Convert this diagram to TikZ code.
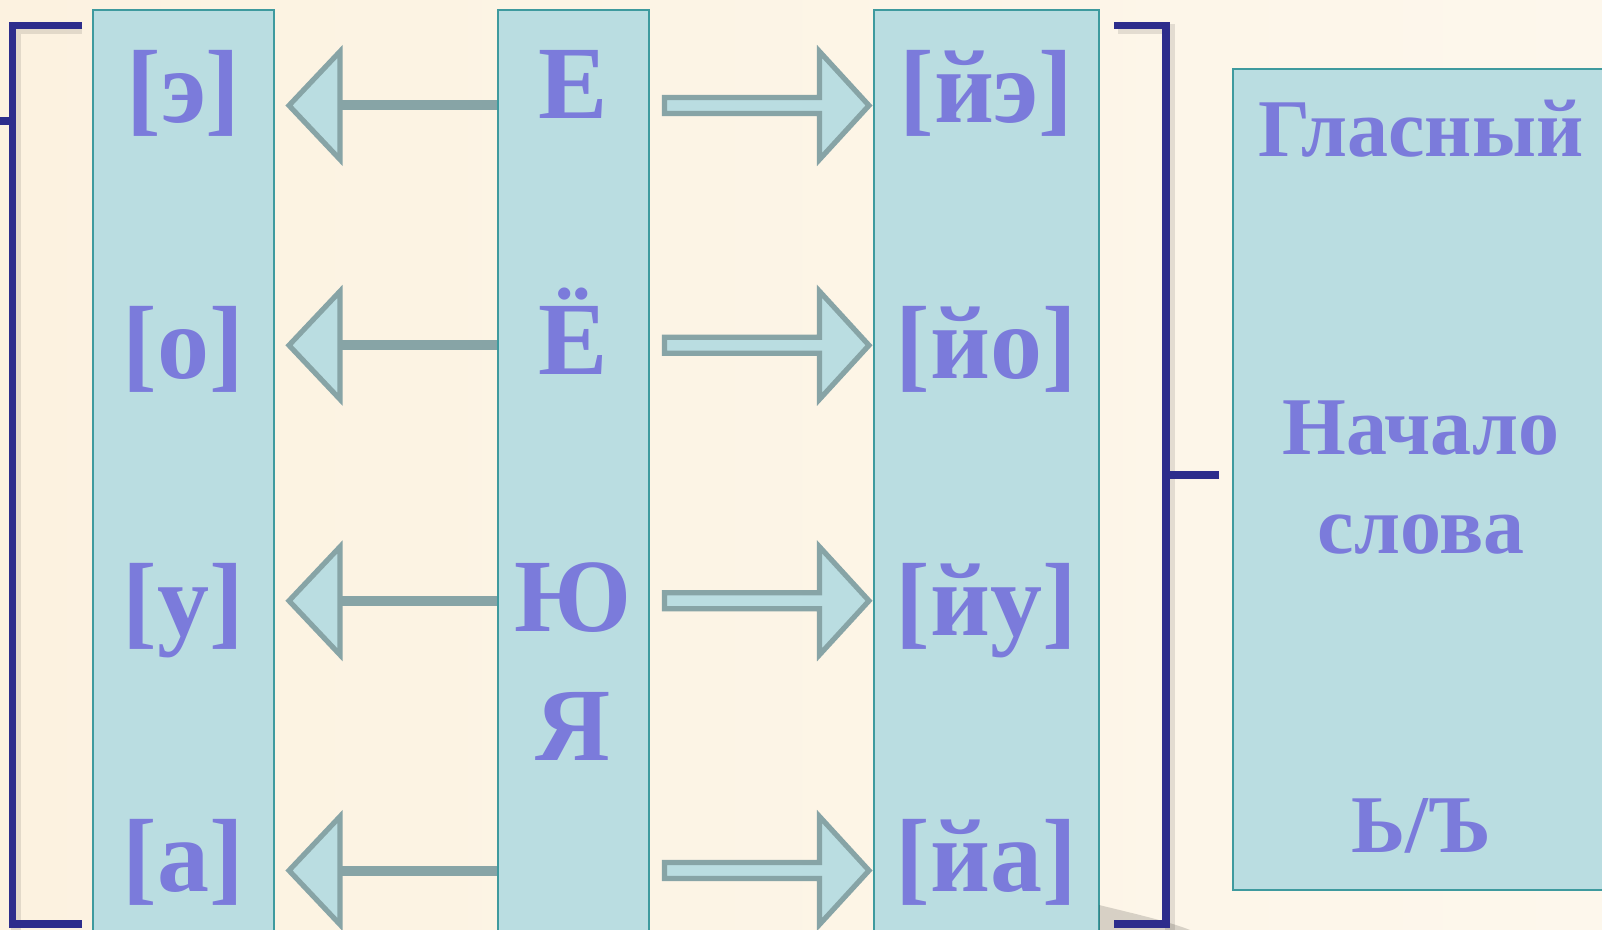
\documentclass[tikz,border=0pt]{standalone}
\usepackage{fontspec}
\setmainfont{Liberation Serif}
\definecolor{bgcream}{RGB}{252,242,224}
\definecolor{bglight}{RGB}{253,247,236}
\definecolor{colfill}{RGB}{186,221,225}
\definecolor{colline}{RGB}{62,154,158}
\definecolor{txtcol}{RGB}{123,123,219}
\definecolor{brcol}{RGB}{45,45,140}
\definecolor{arrcol}{RGB}{135,164,166}
\tikzset{
  colbox/.style={fill=colfill,draw=colline,line width=1pt},
  big/.style={text=txtcol,font=\bfseries\fontsize{52}{60}\selectfont,inner sep=0pt,anchor=base},
  mid/.style={text=txtcol,font=\bfseries\fontsize{41}{49}\selectfont,inner sep=0pt,anchor=base},
  bracketline/.style={draw=brcol,line width=3.8pt},
  bshadow/.style={draw=black,opacity=0.10,line width=5pt},
  leftshaft/.style={draw=arrcol,line width=5pt},
  headline/.style={draw=arrcol,fill=colfill,line width=2.6pt,line join=miter},
}
\begin{document}
\begin{tikzpicture}[x=0.5pt,y=-0.5pt]
\useasboundingbox (0,0) rectangle (1602,930);
\shade[left color=bgcream,right color=bglight] (0,0) rectangle (1602,930);
% columns
\draw[colbox] (93,10) rectangle (274,940);
\draw[colbox] (498,10) rectangle (649,940);
\draw[colbox] (874,10) rectangle (1099,940);
\draw[colbox] (1233,69) rectangle (1620,890);
% page curl shadow
\fill[black,opacity=0.15] (1099,905) .. controls (1140,915) and (1170,922) .. (1190,930) -- (1099,930) -- cycle;
% brackets shadows
\draw[bshadow] (82,29) -- (16,29) -- (16,930);
\draw[bshadow] (1118,29) -- (1170,29) -- (1170,930);
% left bracket
\draw[bracketline] (82,25.5) -- (12.5,25.5) -- (12.5,924) -- (82,924);
\coordinate (lt) at (0,121);
\coordinate (lj) at (12.5,121);
\draw[bracketline] (lt) -- (lj);
% right bracket
\draw[bracketline] (1114,25.5) -- (1166,25.5) -- (1166,924) -- (1114,924);
\coordinate (rj) at (1166,475);
\coordinate (rt) at (1219,475);
\draw[bracketline] (rj) -- (rt);
% arrows
\foreach \c in {105.5,345.3,600.8,870.5}{
  \draw[leftshaft] (340,\c) -- (497,\c);
  \draw[headline] (289,\c) -- (340,\c-54) -- (340,\c+54) -- cycle;
  \draw[headline] (664.5,\c-8) -- (819.5,\c-8) -- (819.5,\c-54) -- (869,\c) -- (819.5,\c+54) -- (819.5,\c+8) -- (664.5,\c+8) -- cycle;
}
% texts left column
\node[big] (e1) at (183.5,123) {[э]};
\node[big] (o1) at (183.5,379) {[о]};
\node[big] (u1) at (183.5,635) {[у]};
\node[big] (a1) at (183.5,891) {[а]};
% middle
\node[big] (E) at (573.5,119) {Е};
\node[big] (Yo) at (573.5,375) {Ё};
\node[big] (Yu) at (573.5,632) {Ю};
\node[big] (Ya) at (573.5,760) {Я};
% right column
\node[big] (je) at (986.5,123) {[йэ]};
\node[big] (jo) at (986.5,379) {[йо]};
\node[big] (ju) at (986.5,635) {[йу]};
\node[big] (ja) at (986.5,891) {[йа]};
% right box
\node[mid] (gl) at (1421,157) {Гласный};
\node[mid] (nach) at (1421,455) {Начало};
\node[mid] (slova) at (1421,553) {слова};
\node[mid] (znak) at (1421,852) {Ь/Ъ};
\end{tikzpicture}
\end{document}
